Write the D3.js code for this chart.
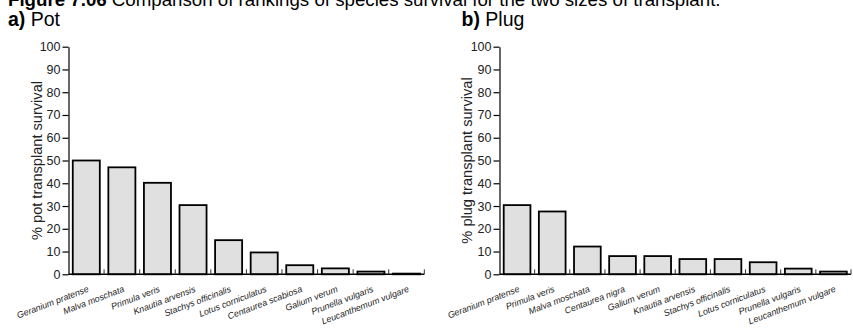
<!DOCTYPE html>
<html>
<head>
<meta charset="utf-8">
<script src="https://cdn.jsdelivr.net/npm/d3@7/dist/d3.min.js"></script>
<style>
  html, body { margin: 0; padding: 0; background: #fff; overflow: hidden; }
  svg { display: block; font-family: "Liberation Sans", Arial, sans-serif; }
</style>
</head>
<body>
<svg id="chart" width="853" height="335"></svg>
<script>
// Species ranked by transplant survival (%), pot-grown
const potSpecies = ["Geranium pratense", "Malva moschata", "Primula veris", "Knautia arvensis",
  "Stachys officinalis", "Lotus corniculatus", "Centaurea scabiosa", "Galium verum",
  "Prunella vulgaris", "Leucanthemum vulgare"];
const potSurvival = [50, 47, 40.2, 30.4, 15, 9.6, 4, 2.6, 1.2, 0.3];

// Species ranked by transplant survival (%), plug-grown
const plugSpecies = ["Geranium pratense", "Primula veris", "Malva moschata", "Centaurea nigra",
  "Galium verum", "Knautia arvensis", "Stachys officinalis", "Lotus corniculatus",
  "Prunella vulgaris", "Leucanthemum vulgare"];
const plugSurvival = [30.4, 27.6, 12.2, 8, 8, 6.7, 6.7, 5.3, 2.5, 1.2];

const yTicks = [0, 10, 20, 30, 40, 50, 60, 70, 80, 90, 100];

const svg = d3.select("#chart");

// Figure caption
const cap = svg.append("text").attr("x", 8).attr("y", 5.5)
  .attr("font-size", 18.7).attr("fill", "#000");
cap.append("tspan").attr("font-weight", "bold").text("Figure 7.06");
cap.append("tspan").text(" Comparison of rankings of species survival for the two sizes of transplant.");

function panel(opts) {
  const { letter, name, species, values, x0, x1, yLabel, labelX } = opts;
  const yTop = 46.7, yBot = 274.3;
  const g = svg.append("g");

  // Panel heading
  const h = g.append("text").attr("x", opts.headX).attr("y", 26)
    .attr("font-size", 19.5).attr("fill", "#000");
  h.append("tspan").attr("font-weight", "bold").text(letter);
  h.append("tspan").text(" " + name);

  const x = d3.scaleBand().domain(species).range([x0, x1]).paddingInner(0.24).paddingOuter(0.12);
  const y = d3.scaleLinear().domain([0, 100]).range([yBot, yTop]);

  // Y axis
  const ya = g.append("g").attr("transform", `translate(${x0},0)`)
    .call(d3.axisLeft(y).tickValues(yTicks).tickSize(6).tickPadding(2).tickSizeOuter(0));
  ya.select(".domain").attr("stroke", "#000").attr("stroke-width", 1.2);
  ya.selectAll(".tick line").attr("stroke", "#000").attr("stroke-width", 1.2);
  ya.selectAll(".tick text").attr("font-size", 12.5).attr("fill", "#222")
    .attr("font-family", "'Liberation Sans', Arial, sans-serif");

  // Y axis title
  g.append("text")
    .attr("transform", `translate(${labelX},${(yTop + yBot) / 2}) rotate(-90)`)
    .attr("text-anchor", "middle").attr("font-size", 14.6).attr("fill", "#222")
    .text(yLabel);

  // Bars
  g.selectAll("rect.bar").data(values).join("rect").attr("class", "bar")
    .attr("x", (d, i) => x(species[i]))
    .attr("width", x.bandwidth())
    .attr("y", d => y(d))
    .attr("height", d => y(0) - y(d))
    .attr("fill", "#e0e0e0").attr("stroke", "#000").attr("stroke-width", 1.8);

  // X axis baseline and category separators
  g.append("line").attr("x1", x0).attr("x2", x1).attr("y1", yBot).attr("y2", yBot)
    .attr("stroke", "#000").attr("stroke-width", 1.4);
  const step = x.step();
  const bounds = d3.range(1, species.length + 1).map(i => x(species[0]) - x.paddingOuter() * step + i * step);
  g.selectAll("line.sep").data(bounds).join("line").attr("class", "sep")
    .attr("x1", d => d).attr("x2", d => d).attr("y1", yBot).attr("y2", yBot - 5)
    .attr("stroke", "#333").attr("stroke-width", 1);

  // Rotated category labels
  g.selectAll("text.cat").data(species).join("text").attr("class", "cat")
    .attr("transform", d => `translate(${x(d) + x.bandwidth() / 2 + 3},${yBot + 17}) rotate(-21)`)
    .attr("text-anchor", "end").attr("font-size", 8.9).attr("font-style", "italic")
    .attr("fill", "#222").text(d => d);
}

panel({ letter: "a)", name: "Pot", species: potSpecies, values: potSurvival,
  x0: 68.5, x1: 424.3, yLabel: "% pot transplant survival", labelX: 41.5, headX: 8 });
panel({ letter: "b)", name: "Plug", species: plugSpecies, values: plugSurvival,
  x0: 499.5, x1: 851, yLabel: "% plug transplant survival", labelX: 472, headX: 461.5 });
</script>
</body>
</html>
